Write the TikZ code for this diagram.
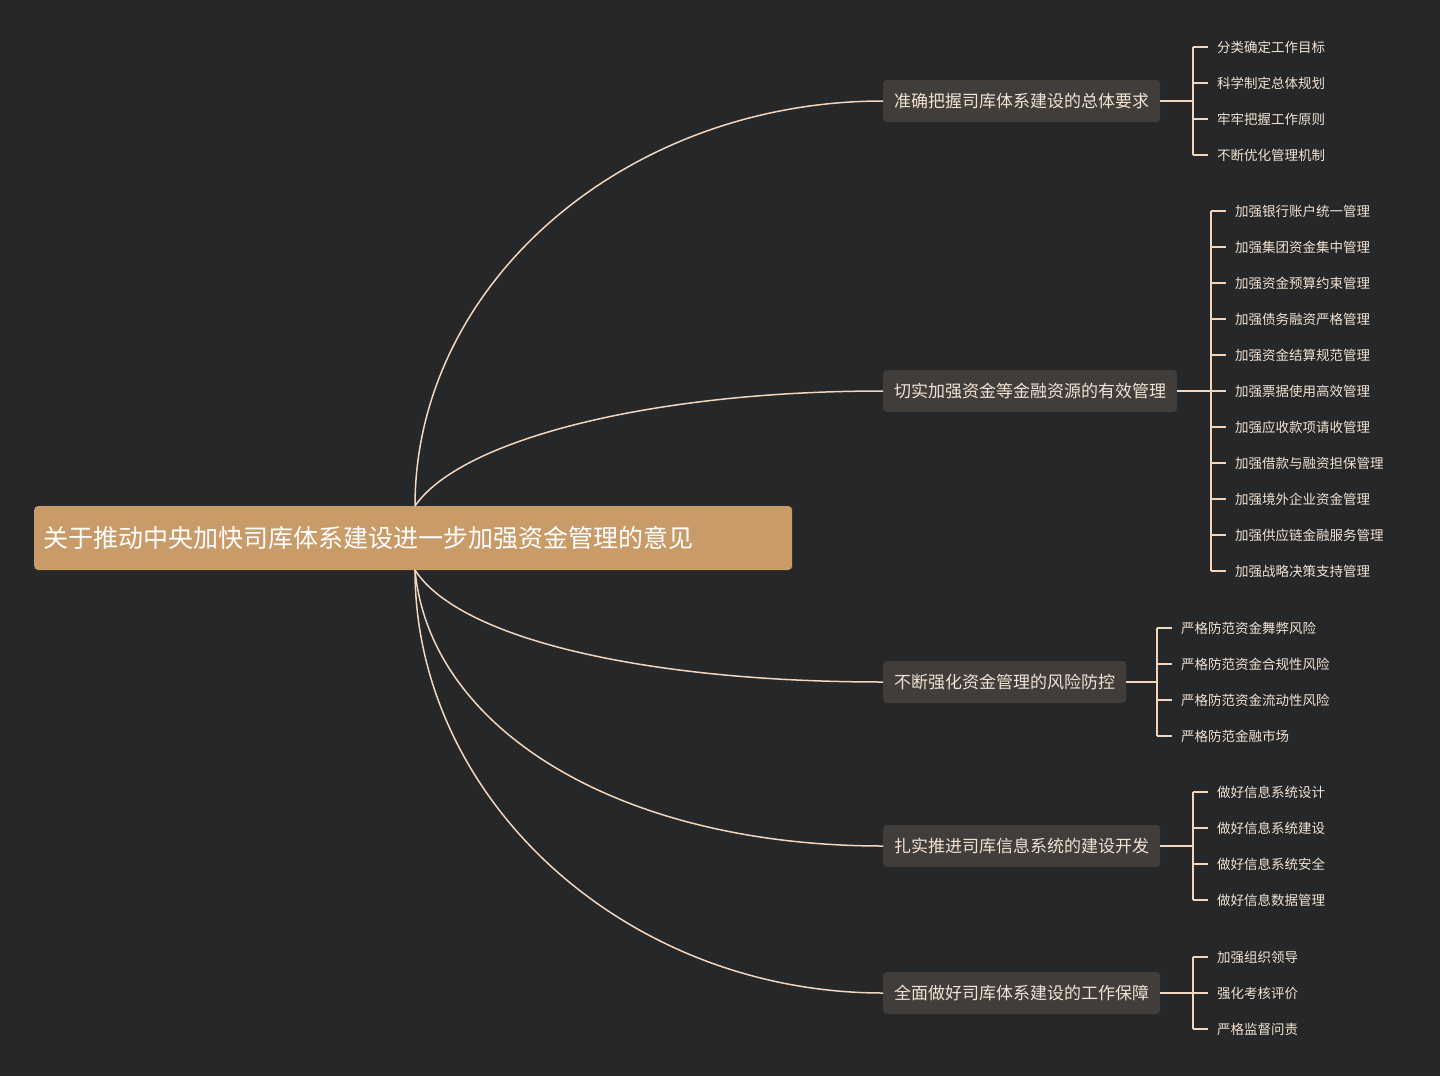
\documentclass[tikz,border=0pt]{standalone}
\usepackage{fontspec}
\setmainfont{Noto Sans CJK SC}
\definecolor{bg}{HTML}{262728}
\definecolor{rootc}{HTML}{C89B69}
\definecolor{boxc}{HTML}{403D3A}
\definecolor{linec}{HTML}{F3D6BC}
\definecolor{txtc}{HTML}{F2E2D2}
\begin{document}
\begin{tikzpicture}[x=1pt,y=-1pt,
  rootbox/.style={fill=rootc,rounded corners=4pt,text=white,font=\fontsize{25}{30}\selectfont,inner sep=0pt,anchor=west},
  branchbox/.style={fill=boxc,rounded corners=4pt,text=txtc,font=\fontsize{17}{20}\selectfont,inner xsep=11pt,anchor=west,minimum height=42pt},
  leaf/.style={text=txtc,font=\fontsize{13.5}{16}\selectfont,anchor=west,inner sep=0pt},
  conn/.style={draw=linec,line width=1.5pt}]
\fill[bg] (0,0) rectangle (1440,1076);
\useasboundingbox (0,0) rectangle (1440,1076);
\node[rootbox,minimum width=758pt,minimum height=64pt] (root) at (34,538) {};
\node[text=white,font=\fontsize{25}{30}\selectfont,anchor=west] (roottxt) at (40,538) {关于推动中央加快司库体系建设进一步加强资金管理的意见};
\coordinate (rt) at (415,506);
\coordinate (rb) at (415,570);
% branches
\node[branchbox] (b1) at (883,101) {准确把握司库体系建设的总体要求};
\node[branchbox] (b2) at (883,391) {切实加强资金等金融资源的有效管理};
\node[branchbox] (b3) at (883,682) {不断强化资金管理的风险防控};
\node[branchbox] (b4) at (883,846) {扎实推进司库信息系统的建设开发};
\node[branchbox] (b5) at (883,993) {全面做好司库体系建设的工作保障};
\draw[conn] (rt) .. controls (415,283) and (626,101) .. (b1.west);
\draw[conn] (rt) .. controls (460,440) and (650,391) .. (b2.west);
\draw[conn] (rb) .. controls (460,640) and (650,682) .. (b3.west);
\draw[conn] (rb) .. controls (430,730) and (620,846) .. (b4.west);
\draw[conn] (rb) .. controls (415,800) and (626,993) .. (b5.west);
% leaves
\foreach \t [count=\i] in {分类确定工作目标,科学制定总体规划,牢牢把握工作原则,不断优化管理机制}{
  \node[leaf] (l1\i) at (1217,11+36*\i) {\t};
  \draw[conn,line width=1.3pt] (1193,11+36*\i) -- (1208,11+36*\i);}
\draw[conn,line width=1.3pt] (b1.east) -- (1193,101) (1193,47) -- (1193,155);
\foreach \t [count=\i] in {加强银行账户统一管理,加强集团资金集中管理,加强资金预算约束管理,加强债务融资严格管理,加强资金结算规范管理,加强票据使用高效管理,加强应收款项请收管理,加强借款与融资担保管理,加强境外企业资金管理,加强供应链金融服务管理,加强战略决策支持管理}{
  \node[leaf] (l2\i) at (1235,175+36*\i) {\t};
  \draw[conn,line width=1.3pt] (1211,175+36*\i) -- (1226,175+36*\i);}
\draw[conn,line width=1.3pt] (b2.east) -- (1211,391) (1211,211) -- (1211,571);
\foreach \t [count=\i] in {严格防范资金舞弊风险,严格防范资金合规性风险,严格防范资金流动性风险,严格防范金融市场}{
  \node[leaf] (l3\i) at (1181,592+36*\i) {\t};
  \draw[conn,line width=1.3pt] (1157,592+36*\i) -- (1172,592+36*\i);}
\draw[conn,line width=1.3pt] (b3.east) -- (1157,682) (1157,628) -- (1157,736);
\foreach \t [count=\i] in {做好信息系统设计,做好信息系统建设,做好信息系统安全,做好信息数据管理}{
  \node[leaf] (l4\i) at (1217,756+36*\i) {\t};
  \draw[conn,line width=1.3pt] (1193,756+36*\i) -- (1208,756+36*\i);}
\draw[conn,line width=1.3pt] (b4.east) -- (1193,846) (1193,792) -- (1193,900);
\foreach \t [count=\i] in {加强组织领导,强化考核评价,严格监督问责}{
  \node[leaf] (l5\i) at (1217,921+36*\i) {\t};
  \draw[conn,line width=1.3pt] (1193,921+36*\i) -- (1208,921+36*\i);}
\draw[conn,line width=1.3pt] (b5.east) -- (1193,993) (1193,957) -- (1193,1029);
\end{tikzpicture}
\end{document}
